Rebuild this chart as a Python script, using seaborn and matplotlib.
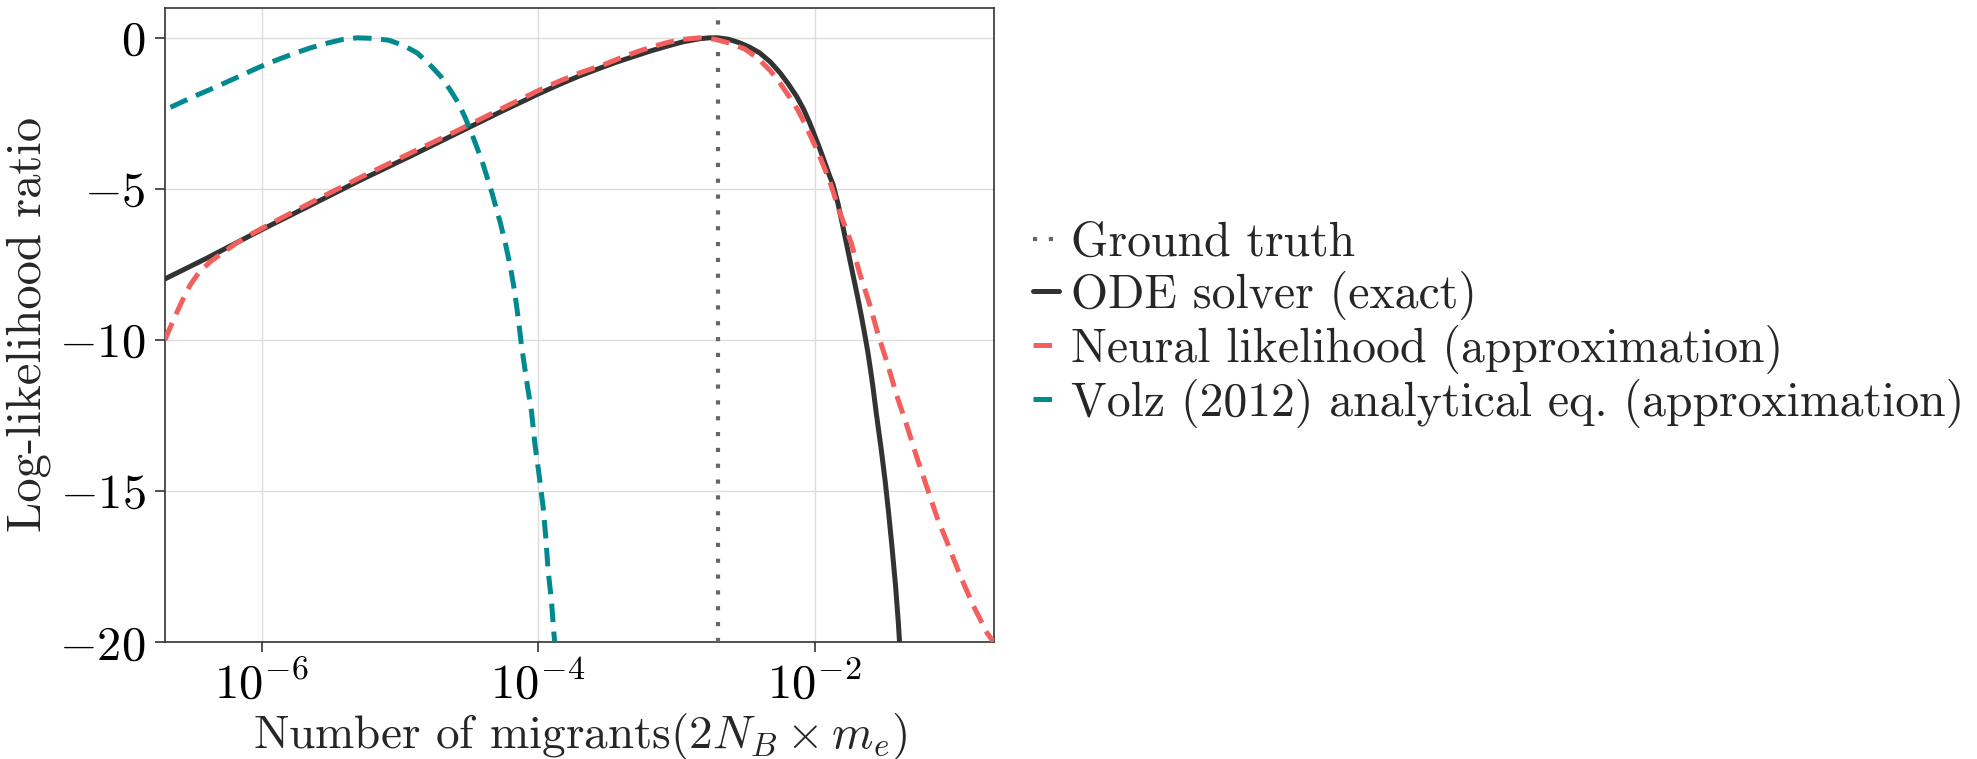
import numpy as np
import pandas as pd
import seaborn as sns
import matplotlib
matplotlib.use("Agg")
import matplotlib.pyplot as plt
from matplotlib.ticker import NullLocator

# ---------------- data ----------------
ground_truth = 2.0e-3

ode_log10_x = [-6.70, -6.40, -6.00, -5.65, -5.29, -4.93, -4.57, -4.28, -4.00, -3.84,
               -3.70, -3.55, -3.43, -3.31, -3.19, -3.07, -2.95, -2.83, -2.76, -2.70,
               -2.62, -2.54, -2.47, -2.397, -2.32, -2.25, -2.19, -2.13, -2.08, -2.035,
               -1.96, -1.89, -1.867, -1.83, -1.795, -1.76, -1.722, -1.69, -1.662,
               -1.637, -1.614, -1.595, -1.578, -1.553, -1.52, -1.49, -1.465, -1.44,
               -1.415, -1.395, -1.38]
ode_y = [-7.98, -7.30, -6.35, -5.55, -4.72, -3.93, -3.12, -2.47, -1.86, -1.53,
         -1.26, -1.00, -0.80, -0.62, -0.44, -0.28, -0.13, -0.03, 0.00, 0.00,
         -0.05, -0.17, -0.31, -0.50, -0.80, -1.16, -1.53, -1.94, -2.36, -2.82,
         -3.70, -4.59, -4.85, -5.50, -6.25, -7.02, -7.85, -8.55, -9.20,
         -9.82, -10.42, -11.00, -11.55, -12.45, -13.55, -14.65, -15.70, -16.85,
         -18.10, -19.30, -20.40]

nn_log10_x = [-6.70, -6.675, -6.62, -6.578, -6.52, -6.458, -6.37, -6.277, -6.185, -6.085,
              -5.88, -5.60, -5.29, -4.93, -4.57, -4.28, -4.00, -3.84, -3.68, -3.52,
              -3.38, -3.27, -3.17, -3.06, -2.95, -2.83, -2.72, -2.62, -2.505, -2.41,
              -2.32, -2.25, -2.18, -2.12, -2.07, -1.975, -1.89, -1.82, -1.734, -1.674,
              -1.60, -1.54, -1.47, -1.405, -1.332, -1.26, -1.187, -1.115, -1.03,
              -0.946, -0.85, -0.753, -0.69]
nn_y = [-10.00, -9.72, -9.15, -8.73, -8.20, -7.79, -7.40, -7.10, -6.80, -6.52,
        -6.02, -5.35, -4.63, -3.83, -3.04, -2.38, -1.75, -1.42, -1.13, -0.88,
        -0.62, -0.44, -0.29, -0.15, -0.05, 0.00, -0.05, -0.17, -0.37, -0.68,
        -1.09, -1.50, -1.97, -2.40, -2.85, -3.79, -4.75, -5.75, -6.80, -7.79,
        -8.84, -9.83, -10.83, -11.85, -12.84, -13.89, -14.88, -15.86, -16.82,
        -17.81, -18.81, -19.69, -20.10]

volz_log10_x = [-6.66, -6.603, -6.50, -6.393, -6.29, -6.188, -6.08, -5.971, -5.86, -5.754,
                -5.645, -5.537, -5.42, -5.309, -5.19, -5.08, -4.975, -4.875, -4.79, -4.706,
                -4.64, -4.578, -4.53, -4.482, -4.405, -4.333, -4.272, -4.235, -4.20,
                -4.17, -4.145, -4.12, -4.084, -4.048, -4.024, -3.993, -3.964, -3.944,
                -3.928, -3.903, -3.886, -3.878]
volz_y = [-2.30, -2.18, -1.96, -1.75, -1.54, -1.33, -1.10, -0.88, -0.68, -0.50,
          -0.33, -0.19, -0.06, 0.00, -0.02, -0.08, -0.25, -0.50, -0.86, -1.27,
          -1.70, -2.15, -2.62, -3.15, -4.09, -5.15, -6.15, -6.85, -7.60,
          -8.40, -9.25, -10.20, -11.33, -12.38, -13.42, -14.47, -15.53, -16.57,
          -17.62, -18.67, -19.72, -20.10]

x_ticks = [1e-6, 1e-4, 1e-2]
y_ticks = [0, -5, -10, -15, -20]

labels = ["Ground truth", "ODE solver (exact)", "Neural likelihood (approximation)",
          "Volz (2012) analytical eq. (approximation)"]

# ---------------- style ----------------
sns.set_theme(style="ticks")
plt.rcParams.update({
    "font.family": ["serif"],
    "font.serif": ["cmr10"],
    "mathtext.fontset": "cm",
    "axes.formatter.use_mathtext": True,
    "axes.unicode_minus": True,
    "font.size": 34,
})

fig = plt.figure(figsize=(19.77, 7.59), dpi=100)
ax = fig.add_axes([0.0835, 0.154, 0.4195, 0.836])

ax.axvline(ground_truth, color="#666666", lw=3.0, ls=(0, (1, 2.8)), label=labels[0], zorder=3)

df_ode = pd.DataFrame({"x": np.power(10.0, ode_log10_x), "y": ode_y})
df_nn = pd.DataFrame({"x": np.power(10.0, nn_log10_x), "y": nn_y})
df_volz = pd.DataFrame({"x": np.power(10.0, volz_log10_x), "y": volz_y})

sns.lineplot(data=df_ode, x="x", y="y", ax=ax, color="#333333", lw=3.6, label=labels[1],
             sort=False, zorder=4)
sns.lineplot(data=df_nn, x="x", y="y", ax=ax, color="#F25F5C", lw=3.6, ls=(0, (3.7, 1.9)),
             label=labels[2], sort=False, zorder=5)
sns.lineplot(data=df_volz, x="x", y="y", ax=ax, color="#00898F", lw=3.6, ls=(0, (3.7, 1.9)),
             label=labels[3], sort=False, zorder=5)

ax.set_xscale("log")
ax.set_xlim(2.0e-7, 0.2)
ax.set_ylim(-20, 1.0)
ax.set_xticks(x_ticks)
ax.xaxis.set_minor_locator(NullLocator())
ax.set_yticks(y_ticks)

ax.grid(True, which="major", color="#dddddd", lw=1.0)
for s in ax.spines.values():
    s.set_visible(True)
    s.set_color("#333333")
    s.set_linewidth(1.2)
ax.tick_params(axis="both", which="major", direction="out", length=7, width=1.2,
               labelsize=35, colors="#333333", labelcolor="black", pad=7)

ax.set_xlabel(r"Number of migrants$(2N_B\times m_e)$", fontsize=34, labelpad=2)
ax.set_ylabel("Log-likelihood ratio", fontsize=35, labelpad=6)

leg = ax.legend(loc="center left", bbox_to_anchor=(1.0, 0.5), frameon=False,
                fontsize=34.4, handlelength=0.55, handletextpad=0.25, labelspacing=0.1,
                borderaxespad=0.4)

fig.savefig("out.png", dpi=100)
